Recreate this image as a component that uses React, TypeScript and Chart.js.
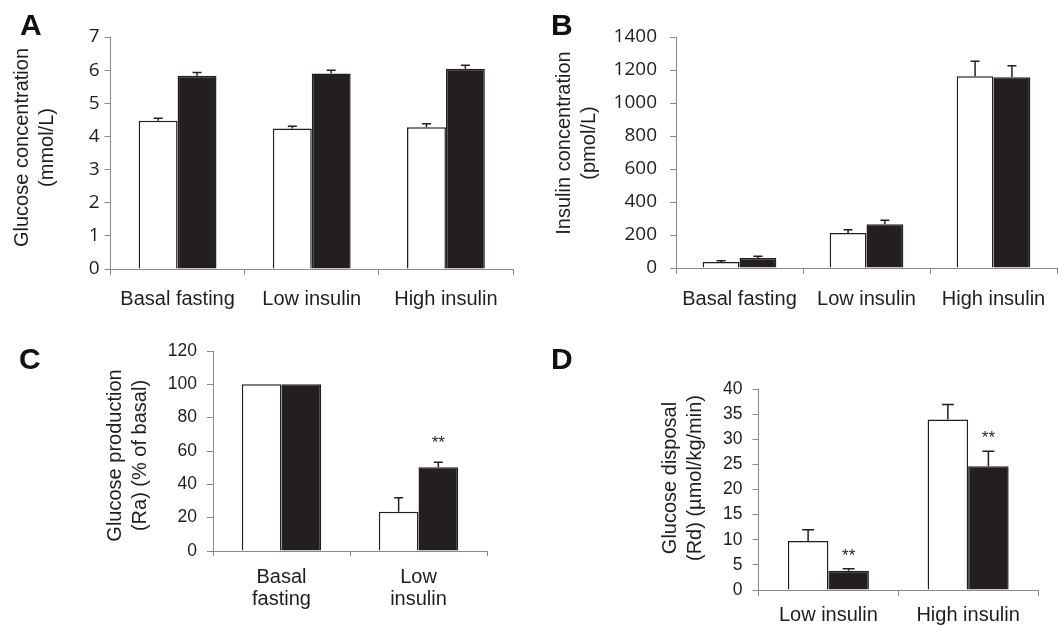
import React, { useEffect, useRef } from "react";
import { Chart, registerables } from "chart.js";

Chart.register(...registerables);

// ---------- data ----------
const catsGlucose = ["Basal fasting", "Low insulin", "High insulin"];
const glucoseControl = [4.47, 4.24, 4.28];
const glucoseControlErr = [0.08, 0.07, 0.1];
const glucoseT2D = [5.83, 5.9, 6.04];
const glucoseT2DErr = [0.1, 0.1, 0.11];
const ticksGlucose = [0, 1, 2, 3, 4, 5, 6, 7];

const catsInsulin = ["Basal fasting", "Low insulin", "High insulin"];
const insulinControl = [36, 212, 1162];
const insulinControlErr = [8, 20, 91];
const insulinT2D = [61, 265, 1156];
const insulinT2DErr = [10, 24, 70];
const ticksInsulin = [0, 200, 400, 600, 800, 1000, 1200, 1400];

const catsRa = [["Basal", "fasting"], ["Low", "insulin"]];
const raControl = [100, 23.5];
const raControlErr = [0, 8.5];
const raT2D = [100, 50.2];
const raT2DErr = [0, 3];
const raSig = [null, 67.8];
const ticksRa = [0, 20, 40, 60, 80, 100, 120];

const catsRd = ["Low insulin", "High insulin"];
const rdControl = [9.77, 33.95];
const rdControlErr = [2.2, 2.95];
const rdT2D = [3.85, 24.65];
const rdT2DErr = [0.4, 2.95];
const rdSig = [7.7, 31.2];
const ticksRd = [0, 5, 10, 15, 20, 25, 30, 35, 40];

// ---------- styles ----------
const AXIS = "#8a8a8a";
const INK = "#231f20";
const TEXT = "#1e1e1e";
const ARIAL = "'Liberation Sans', Arial, sans-serif";
const CALIBRI = "'Open Sans', 'Liberation Sans', sans-serif";

const errorBars = {
  id: "errorBars",
  afterDatasetsDraw(chart: any, _a: any, opts: any) {
    const ctx = chart.ctx;
    const ys = chart.scales.y;
    chart.data.datasets.forEach((ds: any, di: number) => {
      const meta = chart.getDatasetMeta(di);
      meta.data.forEach((el: any, i: number) => {
        const e = ds.errors ? ds.errors[i] : 0;
        if (!e) return;
        const top = ys.getPixelForValue(ds.data[i] + e);
        ctx.save();
        ctx.strokeStyle = INK;
        ctx.lineWidth = 1.5;
        ctx.beginPath();
        ctx.moveTo(el.x, el.y);
        ctx.lineTo(el.x, top);
        ctx.moveTo(el.x - opts.cap / 2, top);
        ctx.lineTo(el.x + opts.cap / 2, top);
        ctx.stroke();
        ctx.restore();
      });
    });
  },
};

const sigMarks = {
  id: "sigMarks",
  afterDatasetsDraw(chart: any) {
    const ctx = chart.ctx;
    const ys = chart.scales.y;
    chart.data.datasets.forEach((ds: any, di: number) => {
      if (!ds.sig) return;
      const meta = chart.getDatasetMeta(di);
      meta.data.forEach((el: any, i: number) => {
        const v = ds.sig[i];
        if (v == null) return;
        const y = ys.getPixelForValue(v);
        ctx.save();
        ctx.fillStyle = TEXT;
        ctx.font = `17px ${ARIAL}`;
        ctx.textAlign = "center";
        ctx.textBaseline = "alphabetic";
        ctx.fillText("**", el.x, y + 17 * 0.57);
        ctx.restore();
      });
    });
  },
};

const yTitle = {
  id: "yTitle",
  afterDraw(chart: any, _a: any, opts: any) {
    const ctx = chart.ctx;
    ctx.save();
    ctx.fillStyle = TEXT;
    ctx.font = `20px ${ARIAL}`;
    ctx.textAlign = "center";
    ctx.textBaseline = "middle";
    ctx.translate(opts.x, opts.y);
    ctx.rotate(-Math.PI / 2);
    opts.lines.forEach((line: string, i: number) => {
      ctx.fillText(line, 0, i * opts.lh);
    });
    ctx.restore();
  },
};

type PanelDef = {
  left: number;
  top: number;
  width: number;
  height: number;
  cats: any[];
  a: number[];
  aErr: number[];
  b: number[];
  bErr: number[];
  sig?: (number | null)[];
  yTicks: number[];
  title: string[];
  axisW: number;
  padTop: number;
  padRight: number;
  axisH: number;
  tickFont: string;
  tickSize: number;
  tickPad: number;
  xTickLen: number;
  labelPad: number;
  labelLH: number;
  titleX: number;
  titleY: number;
  cap: number;
};

const panels: PanelDef[] = [
  {
    left: 0, top: 0, width: 530, height: 314,
    cats: catsGlucose, a: glucoseControl, aErr: glucoseControlErr, b: glucoseT2D, bErr: glucoseT2DErr,
    yTicks: ticksGlucose, title: ["Glucose concentration", "(mmol/L)"],
    axisW: 110.5, padTop: 37, padRight: 17, axisH: 45,
    tickFont: CALIBRI, tickSize: 19, tickPad: 5, xTickLen: 6, labelPad: 12, labelLH: 1.2,
    titleX: 22.5, titleY: 147.5, cap: 9,
  },
  {
    left: 530, top: 0, width: 529, height: 314,
    cats: catsInsulin, a: insulinControl, aErr: insulinControlErr, b: insulinT2D, bErr: insulinT2DErr,
    yTicks: ticksInsulin, title: ["Insulin concentration", "(pmol/L)"],
    axisW: 146, padTop: 37, padRight: 2, axisH: 46,
    tickFont: CALIBRI, tickSize: 19, tickPad: 13, xTickLen: 6, labelPad: 13, labelLH: 1.2,
    titleX: 34.5, titleY: 143, cap: 9,
  },
  {
    left: 0, top: 314, width: 530, height: 314,
    cats: catsRa, a: raControl, aErr: raControlErr, b: raT2D, bErr: raT2DErr, sig: raSig,
    yTicks: ticksRa, title: ["Glucose production", "(Ra) (% of basal)"],
    axisW: 213, padTop: 37, padRight: 43, axisH: 77,
    tickFont: ARIAL, tickSize: 17.5, tickPad: 10, xTickLen: 5, labelPad: 11, labelLH: 1.08,
    titleX: 115.6, titleY: 141.5, cap: 9,
  },
  {
    left: 530, top: 314, width: 529, height: 314,
    cats: catsRd, a: rdControl, aErr: rdControlErr, b: rdT2D, bErr: rdT2DErr, sig: rdSig,
    yTicks: ticksRd, title: ["Glucose disposal", "(Rd) (µmol/kg/min)"],
    axisW: 228.5, padTop: 75, padRight: 21, axisH: 38,
    tickFont: ARIAL, tickSize: 17.5, tickPad: 10, xTickLen: 6, labelPad: 7.5, labelLH: 1.2,
    titleX: 140.6, titleY: 164, cap: 12,
  },
];

const letters = [
  { t: "A", left: 20, top: 9.5 },
  { t: "B", left: 551, top: 9.5 },
  { t: "C", left: 19, top: 343.5 },
  { t: "D", left: 551, top: 343.5 },
];

function Panel({ p }: { p: PanelDef }) {
  const ref = useRef<HTMLCanvasElement | null>(null);
  useEffect(() => {
    if (!ref.current) return;
    const yTicks = p.yTicks;
    const chart = new Chart(ref.current, {
      type: "bar",
      data: {
        labels: p.cats,
        datasets: [
          {
            label: "Control",
            data: p.a,
            errors: p.aErr,
            backgroundColor: "#ffffff",
            borderColor: INK,
            borderWidth: 1.5,
            categoryPercentage: 0.58,
            barPercentage: 1,
          } as any,
          {
            label: "T2D",
            data: p.b,
            errors: p.bErr,
            sig: p.sig,
            backgroundColor: INK,
            borderColor: INK,
            borderWidth: 1.5,
            categoryPercentage: 0.58,
            barPercentage: 1,
          } as any,
        ],
      },
      options: {
        responsive: false,
        maintainAspectRatio: false,
        animation: false,
        layout: { padding: { left: 0, top: p.padTop, right: p.padRight, bottom: 0 } },
        plugins: {
          legend: { display: false },
          tooltip: { enabled: false },
          errorBars: { cap: p.cap },
          yTitle: { lines: p.title, x: p.titleX, y: p.titleY, lh: 24.5 },
        } as any,
        scales: {
          x: {
            type: "category",
            offset: true,
            grid: {
              offset: true,
              drawOnChartArea: false,
              drawTicks: true,
              tickLength: p.xTickLen,
              color: AXIS,
              lineWidth: 1,
            },
            border: { display: true, color: AXIS, width: 1 },
            ticks: {
              color: TEXT,
              font: { family: ARIAL, size: 20, lineHeight: p.labelLH },
              padding: p.labelPad,
              maxRotation: 0,
              minRotation: 0,
              autoSkip: false,
            },
            afterFit: (s: any) => {
              s.height = p.axisH;
            },
          },
          y: {
            type: "linear",
            min: yTicks[0],
            max: yTicks[yTicks.length - 1],
            grid: {
              drawOnChartArea: false,
              drawTicks: true,
              tickLength: 6,
              color: AXIS,
              lineWidth: 1,
            },
            border: { display: true, color: AXIS, width: 1 },
            ticks: {
              color: TEXT,
              font: { family: p.tickFont, size: p.tickSize },
              padding: p.tickPad,
              callback: (v: any) => String(v),
            },
            afterBuildTicks: (s: any) => {
              s.ticks = yTicks.map((v) => ({ value: v }));
            },
            afterFit: (s: any) => {
              s.width = p.axisW;
            },
          },
        },
      } as any,
      plugins: [errorBars, sigMarks, yTitle],
    });
    return () => chart.destroy();
  }, [p]);
  return (
    <canvas
      ref={ref}
      width={p.width}
      height={p.height}
      style={{
        position: "absolute",
        left: p.left,
        top: p.top,
        width: p.width,
        height: p.height,
      }}
    />
  );
}

export default function App() {
  return (
    <div
      style={{
        position: "absolute",
        left: 0,
        top: 0,
        width: 1059,
        height: 628,
        background: "#ffffff",
        overflow: "hidden",
      }}
    >
      {panels.map((p, i) => (
        <Panel key={i} p={p} />
      ))}
      {letters.map((l) => (
        <div
          key={l.t}
          style={{
            position: "absolute",
            left: l.left,
            top: l.top,
            fontFamily: ARIAL,
            fontWeight: "bold",
            fontSize: 30,
            lineHeight: "30px",
            color: "#111",
          }}
        >
          {l.t}
        </div>
      ))}
    </div>
  );
}
